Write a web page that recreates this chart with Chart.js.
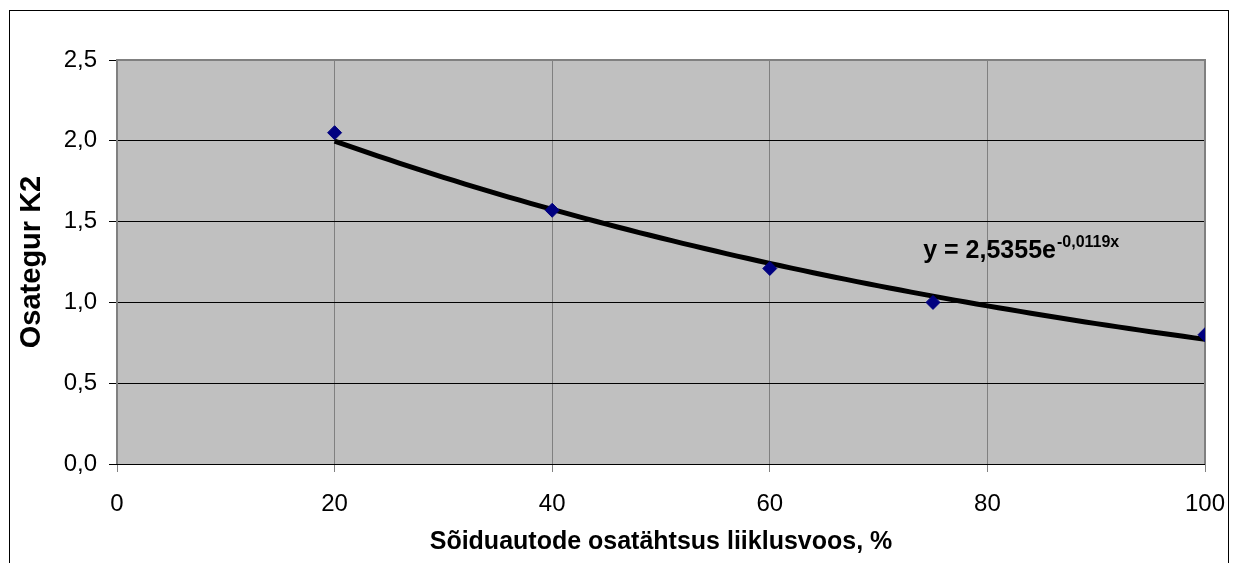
<!DOCTYPE html>
<html>
<head>
<meta charset="utf-8">
<script src="https://cdn.jsdelivr.net/npm/chart.js@4.4.1/dist/chart.umd.min.js"></script>
<style>
  html, body { margin: 0; padding: 0; background: #fff; }
  canvas { display: block; }
</style>
</head>
<body>
<canvas id="c" width="1234" height="563"></canvas>
<script>
// Passenger-car share in traffic flow (%) and the measured factor K2
const shareX = [20, 40, 60, 75, 100];
const factorK2 = [2.05, 1.57, 1.21, 1.0, 0.80];

// Exponential trend: y = A * e^(B x)
const trendA = 2.5355;
const trendB = -0.0119;
const trendFrom = 20;
const trendTo = 100;

const xTicks = [0, 20, 40, 60, 80, 100];
const yTicks = [0, 0.5, 1.0, 1.5, 2.0, 2.5];

const xTitle = 'Sõiduautode osatähtsus liiklusvoos, %';
const yTitle = 'Osategur K2';

const comma = (v, d) => v.toFixed(d).replace('.', ',');

const trendPoints = [];
for (let x = trendFrom; x <= trendTo; x += 1) {
  trendPoints.push({ x: x, y: trendA * Math.exp(trendB * x) });
}

const FONT = "'Liberation Sans', Arial, sans-serif";

// Grey plot background, plot frame, outer frame and the trend equation
const decor = {
  id: 'decor',
  beforeDraw(chart) {
    const { ctx, chartArea: a } = chart;
    ctx.save();
    ctx.fillStyle = '#C0C0C0';
    ctx.fillRect(a.left, a.top, a.right - a.left, a.bottom - a.top);
    ctx.strokeStyle = '#000';
    ctx.lineWidth = 1;
    ctx.strokeRect(9.5, 10.5, 1219, 600);
    ctx.restore();
  },
  beforeDatasetsDraw(chart) {
    const { ctx, chartArea: a } = chart;
    ctx.save();
    ctx.strokeStyle = '#808080';
    ctx.lineWidth = 2;
    ctx.beginPath();
    ctx.moveTo(a.left, a.bottom);
    ctx.lineTo(a.left, a.top);
    ctx.lineTo(a.right, a.top);
    ctx.lineTo(a.right, a.bottom);
    ctx.stroke();
    ctx.strokeStyle = '#000';
    ctx.lineWidth = 1;
    ctx.beginPath();
    ctx.moveTo(a.left, a.bottom + 0.5);
    ctx.lineTo(a.right, a.bottom + 0.5);
    ctx.stroke();
    ctx.restore();
  },
  afterDatasetsDraw(chart) {
    const { ctx, scales } = chart;
    const px = scales.x.getPixelForValue(74.1);
    const py = scales.y.getPixelForValue(1.275);
    const main = 'y = ' + comma(trendA, 4) + 'e';
    const sup = comma(trendB, 4) + 'x';
    ctx.save();
    ctx.fillStyle = '#000';
    ctx.textBaseline = 'alphabetic';
    ctx.textAlign = 'left';
    ctx.font = 'bold 25px ' + FONT;
    ctx.fillText(main, px, py);
    const w = ctx.measureText(main).width;
    ctx.font = 'bold 16px ' + FONT;
    ctx.fillText(sup, px + w + 1, py - 11);
    ctx.restore();
  }
};

new Chart(document.getElementById('c'), {
  data: {
    datasets: [
      {
        type: 'scatter',
        label: 'K2',
        data: shareX.map((x, i) => ({ x: x, y: factorK2[i] })),
        pointStyle: 'rectRot',
        pointRadius: 7,
        pointBackgroundColor: '#000080',
        pointBorderColor: '#000080',
        pointBorderWidth: 1,
        order: 0
      },
      {
        type: 'line',
        label: 'trend',
        data: trendPoints,
        borderColor: '#000',
        borderWidth: 5,
        pointRadius: 0,
        fill: false,
        tension: 0,
        order: 1
      }
    ]
  },
  options: {
    responsive: false,
    animation: false,
    events: [],
    layout: { padding: { left: 0, top: 60, right: 29, bottom: 0 } },
    plugins: {
      legend: { display: false },
      tooltip: { enabled: false }
    },
    scales: {
      x: {
        type: 'linear',
        min: 0,
        max: 100,
        afterFit(s) { s.height = 99; s.paddingLeft = 0; s.paddingRight = 0; },
        afterBuildTicks(s) { s.ticks = xTicks.map(v => ({ value: v })); },
        grid: { color: '#808080', tickColor: '#808080', tickLength: 8, lineWidth: 1 },
        border: { display: false },
        ticks: {
          color: '#000',
          padding: 18,
          font: { family: FONT, size: 24 },
          maxRotation: 0,
          callback: v => String(v)
        },
        title: {
          display: true,
          text: xTitle,
          color: '#000',
          padding: 6,
          font: { family: FONT, size: 25, weight: 'bold' }
        }
      },
      y: {
        type: 'linear',
        min: 0,
        max: 2.5,
        afterFit(s) { s.width = 117; s.paddingTop = 0; s.paddingBottom = 0; },
        afterBuildTicks(s) { s.ticks = yTicks.map(v => ({ value: v })); },
        grid: { color: '#000', tickColor: '#000', tickLength: 8, lineWidth: 1 },
        border: { display: false },
        ticks: {
          color: '#000',
          padding: 12,
          font: { family: FONT, size: 24 },
          callback: v => comma(v, 1)
        },
        title: {
          display: true,
          text: yTitle,
          color: '#000',
          padding: 15,
          font: { family: FONT, size: 29, weight: 'bold' }
        }
      }
    }
  },
  plugins: [decor]
});
</script>
</body>
</html>
